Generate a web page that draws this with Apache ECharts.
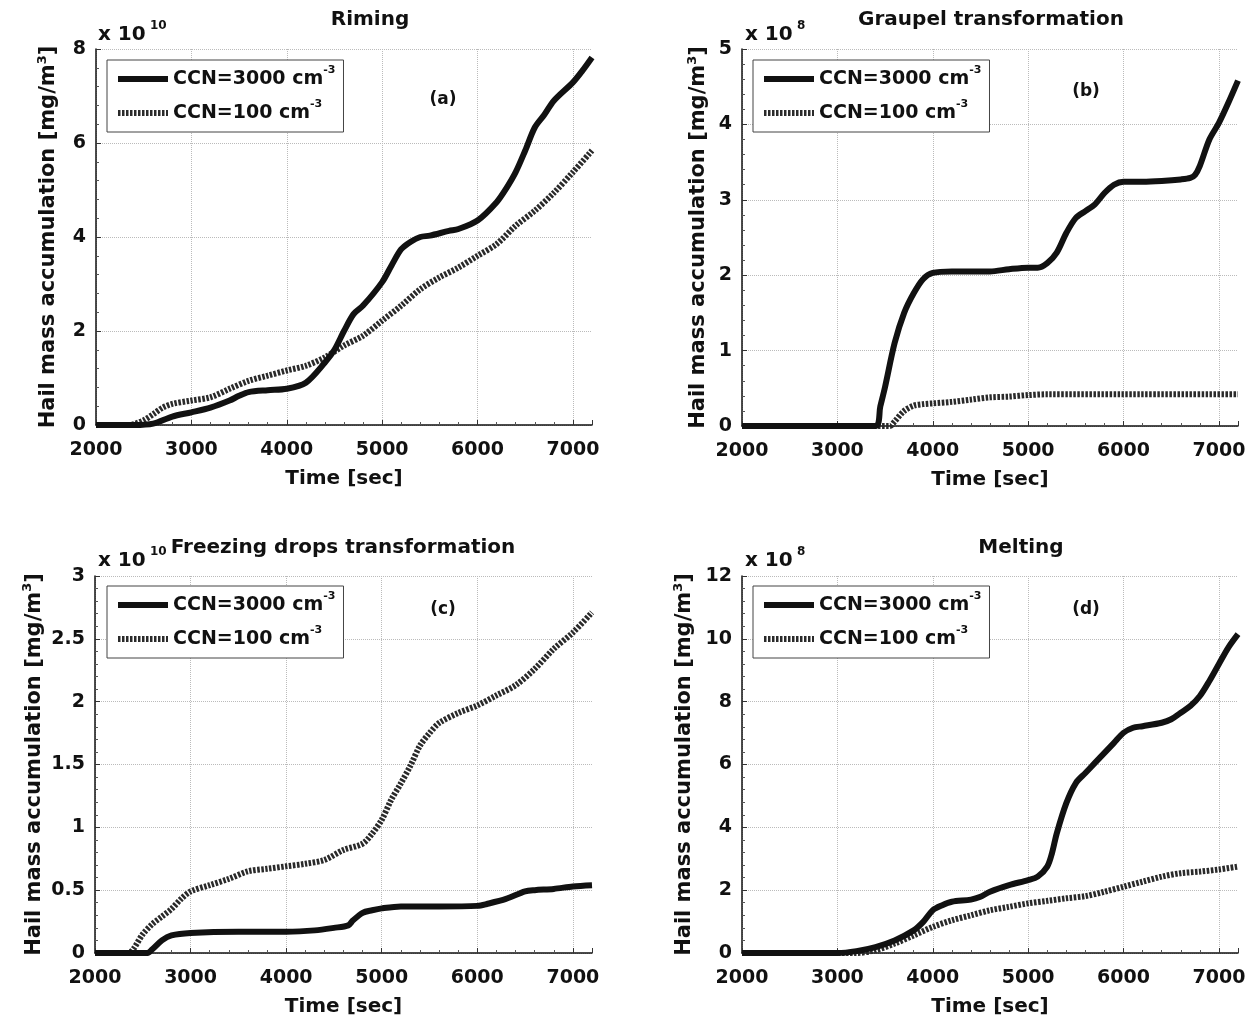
<!DOCTYPE html>
<html>
<head>
<meta charset="utf-8">
<script src="https://cdn.jsdelivr.net/npm/echarts@6/dist/echarts.min.js"></script>
<style>html,body{margin:0;padding:0;background:#fff}#c{width:1257px;height:1020px}</style>
</head>
<body>
<div id="c"></div>
<script>
// ---------- Data (values in units of the axis multiplier) ----------
const titles = ['Riming', 'Graupel transformation', 'Freezing drops transformation', 'Melting'];
const panelTags = ['(a)', '(b)', '(c)', '(d)'];
const exponents = ['10', '8', '10', '8'];
const yMax = [8, 5, 3, 12];
const yInterval = [2, 1, 0.5, 2];
const seriesNames = ['CCN=3000 cm-3', 'CCN=100 cm-3'];

// (a) Riming
const timeA3000 = [2000,2400,2600,2800,3000,3200,3400,3500,3600,3800,4000,4200,4400,4500,4600,4700,4800,5000,5100,5200,5300,5400,5500,5700,5800,6000,6200,6300,6400,6500,6600,6700,6800,7000,7100,7200];
const valA3000  = [0,0,0.03,0.18,0.27,0.37,0.52,0.62,0.7,0.74,0.77,0.9,1.33,1.6,2.0,2.36,2.54,3.04,3.4,3.74,3.9,4.0,4.03,4.13,4.17,4.35,4.74,5.03,5.38,5.84,6.33,6.6,6.9,7.29,7.54,7.82];
const timeA100 = [2000,2350,2400,2500,2600,2700,2800,3000,3200,3400,3600,3800,4000,4200,4400,4600,4800,5000,5200,5400,5600,5800,6000,6200,6400,6600,6800,7000,7200];
const valA100  = [0,0,0.02,0.1,0.23,0.37,0.45,0.52,0.59,0.77,0.94,1.05,1.16,1.26,1.44,1.69,1.9,2.22,2.54,2.89,3.14,3.35,3.6,3.85,4.24,4.56,4.94,5.38,5.84];

// (b) Graupel transformation
const timeB3000 = [2000,3400,3450,3500,3600,3700,3800,3900,4000,4200,4600,4800,5000,5100,5200,5300,5400,5500,5600,5700,5800,5900,6000,6200,6400,6600,6700,6750,6800,6900,7000,7100,7200];
const valB3000  = [0,0,0.26,0.52,1.1,1.5,1.76,1.95,2.03,2.05,2.05,2.08,2.1,2.1,2.16,2.3,2.56,2.76,2.85,2.94,3.09,3.2,3.24,3.24,3.25,3.27,3.29,3.33,3.45,3.8,4.02,4.29,4.58];
const timeB100 = [2000,3550,3600,3700,3800,3900,4000,4200,4400,4600,4800,5000,5200,6000,7200];
const valB100  = [0,0,0.06,0.2,0.27,0.29,0.3,0.32,0.35,0.38,0.39,0.41,0.42,0.42,0.42];

// (c) Freezing drops transformation
const timeC3000 = [2000,2550,2600,2700,2800,3000,3500,4000,4300,4500,4650,4700,4800,4900,5000,5200,5600,6000,6100,6300,6500,6600,6800,7000,7200];
const valC3000  = [0,0,0.03,0.1,0.14,0.16,0.17,0.17,0.18,0.2,0.22,0.26,0.32,0.34,0.355,0.37,0.37,0.375,0.39,0.43,0.49,0.5,0.51,0.53,0.54];
const timeC100 = [2000,2350,2400,2500,2600,2700,2800,2900,3000,3200,3400,3600,3800,4000,4200,4400,4600,4800,4900,5000,5100,5200,5300,5400,5500,5600,5800,6000,6200,6400,6600,6800,7000,7200];
const valC100  = [0,0,0.03,0.15,0.23,0.29,0.35,0.43,0.49,0.54,0.59,0.65,0.67,0.69,0.71,0.74,0.82,0.87,0.95,1.06,1.22,1.35,1.49,1.65,1.75,1.83,1.91,1.97,2.05,2.13,2.26,2.42,2.55,2.71];

// (d) Melting
const timeD3000 = [2000,3000,3200,3400,3600,3800,3900,4000,4100,4200,4400,4500,4600,4800,5000,5100,5200,5250,5300,5400,5500,5600,5700,5800,5900,6000,6100,6200,6400,6500,6600,6700,6800,6900,7000,7100,7200];
const valD3000  = [0,0,0.06,0.19,0.4,0.72,0.99,1.36,1.52,1.63,1.7,1.79,1.95,2.16,2.32,2.43,2.75,3.18,3.81,4.77,5.41,5.73,6.05,6.37,6.69,7.01,7.17,7.22,7.33,7.44,7.65,7.86,8.18,8.66,9.2,9.73,10.15];
const timeD100 = [2000,3200,3400,3600,3800,4000,4200,4400,4600,4800,5000,5200,5400,5600,5800,6000,6200,6400,6600,6800,7000,7200];
const valD100  = [0,0,0.09,0.3,0.56,0.83,1.04,1.2,1.36,1.47,1.58,1.66,1.74,1.81,1.95,2.11,2.27,2.43,2.54,2.59,2.66,2.75];

// ---------- Layout ----------
const FONT = 'DejaVu Sans';
const TXT = '#111';
const grids = [
  {left: 96, top: 49, width: 496, height: 376},
  {left: 742, top: 49, width: 496, height: 377},
  {left: 95, top: 576, width: 497, height: 377},
  {left: 742, top: 576, width: 496, height: 377}
];
const yNameGap = [34, 30, 45, 44];
const titlePos = [[370, 20], [991, 20], [343, 548], [1021, 548]];
const expPos = [[98, 35], [745, 35], [98, 561], [745, 561]];
const tagPos = [[443, 100], [1086, 92], [443, 610], [1086, 610]];
const legendPos = [[107, 60], [753, 60], [107, 586], [753, 586]];

const zip = (t, v) => t.map((x, i) => [x, v[i]]);
const pairs = [
  [zip(timeA3000, valA3000), zip(timeA100, valA100)],
  [zip(timeB3000, valB3000), zip(timeB100, valB100)],
  [zip(timeC3000, valC3000), zip(timeC100, valC100)],
  [zip(timeD3000, valD3000), zip(timeD100, valD100)]
];
const lineStyles = [
  {color: '#111', width: 6, type: 'solid'},
  {color: '#2a2a2a', width: 6, type: [2.5, 1.5]}
];

const boldFont = (s) => 'bold ' + s + 'px "' + FONT + '"';

const xAxes = [], yAxes = [], series = [], legends = [], graphics = [];
for (let i = 0; i < 4; i++) {
  xAxes.push({
    type: 'value', gridIndex: i, min: 2000, max: 7200, interval: 1000,
    name: 'Time [sec]', nameLocation: 'middle', nameGap: 44,
    nameTextStyle: {fontFamily: FONT, fontSize: 20, fontWeight: 'bold', color: TXT},
    axisLine: {show: true, lineStyle: {color: '#111', width: 1.5}},
    axisTick: {show: true, inside: true, length: 5, lineStyle: {color: '#333'}},
    minorTick: {show: true, splitNumber: 5, length: 3, lineStyle: {color: '#555'}},
    axisLabel: {margin: 16, fontFamily: FONT, fontSize: 19, fontWeight: 'bold', color: TXT,
      showMaxLabel: false, formatter: (v) => (v === 7200 ? '' : String(v))},
    splitLine: {show: true, showMaxLine: false, lineStyle: {type: 'dotted', color: '#bbb', width: 1}}
  });
  yAxes.push({
    type: 'value', gridIndex: i, min: 0, max: yMax[i], interval: yInterval[i],
    name: 'Hail mass accumulation [mg/m{s|3}]', nameLocation: 'middle', nameRotate: 90, nameGap: yNameGap[i],
    nameTextStyle: {fontFamily: FONT, fontSize: 21, fontWeight: 'bold', color: TXT, lineHeight: 26,
      rich: {s: {fontFamily: FONT, fontSize: 13, fontWeight: 'bold', color: TXT, verticalAlign: 'top', lineHeight: 14}}},
    axisLine: {show: true, lineStyle: {color: '#111', width: 1.5}},
    axisTick: {show: true, inside: true, length: 5, lineStyle: {color: '#333'}},
    minorTick: {show: true, splitNumber: 5, length: 3, lineStyle: {color: '#555'}},
    axisLabel: {margin: 10, fontFamily: FONT, fontSize: 19, fontWeight: 'bold', color: TXT},
    splitLine: {show: true, lineStyle: {type: 'dotted', color: '#bbb', width: 1}}
  });
  for (let k = 0; k < 2; k++) {
    series.push({
      name: seriesNames[k], type: 'line', xAxisIndex: i, yAxisIndex: i,
      data: pairs[i][k], symbol: 'none', showSymbol: false, smooth: 0.3, z: 3 - k,
      itemStyle: {color: lineStyles[k].color},
      lineStyle: lineStyles[k]
    });
  }
  legends.push({
    left: legendPos[i][0], top: legendPos[i][1], orient: 'vertical',
    padding: [5, 8, 5, 8], itemGap: 6, itemWidth: 50, itemHeight: 12,
    borderColor: '#444', borderWidth: 1, backgroundColor: '#fff',
    selectedMode: false,
    itemStyle: {opacity: 0},
    data: seriesNames.map((n, k) => ({
      name: n,
      lineStyle: {color: lineStyles[k].color, width: 6, type: lineStyles[k].type, opacity: 1}
    })),
    formatter: (n) => n.replace('cm-3', 'cm{s|-3}'),
    textStyle: {fontFamily: FONT, fontSize: 19, fontWeight: 'bold', color: TXT, lineHeight: 28,
      rich: {s: {fontFamily: FONT, fontSize: 11, fontWeight: 'bold', color: TXT, verticalAlign: 'top', lineHeight: 12}}}
  });
  graphics.push({type: 'text', x: titlePos[i][0], y: titlePos[i][1], z: 10,
    style: {text: titles[i], font: boldFont(20), fill: TXT, align: 'center', verticalAlign: 'middle'}});
  graphics.push({type: 'text', x: expPos[i][0], y: expPos[i][1], z: 10,
    style: {text: 'x 10', font: boldFont(20), fill: TXT, align: 'left', verticalAlign: 'middle'}});
  graphics.push({type: 'text', x: expPos[i][0] + 52, y: expPos[i][1] - 9, z: 10,
    style: {text: exponents[i], font: boldFont(12), fill: TXT, align: 'left', verticalAlign: 'middle'}});
  graphics.push({type: 'text', x: tagPos[i][0], y: tagPos[i][1], z: 10,
    style: {text: panelTags[i], font: boldFont(17), fill: TXT, align: 'center', verticalAlign: 'middle'}});
}

const chart = echarts.init(document.getElementById('c'), null, {renderer: 'canvas'});
chart.setOption({
  backgroundColor: '#fff',
  animation: false,
  grid: grids,
  xAxis: xAxes,
  yAxis: yAxes,
  legend: legends,
  series: series,
  graphic: graphics
});
</script>
</body>
</html>
